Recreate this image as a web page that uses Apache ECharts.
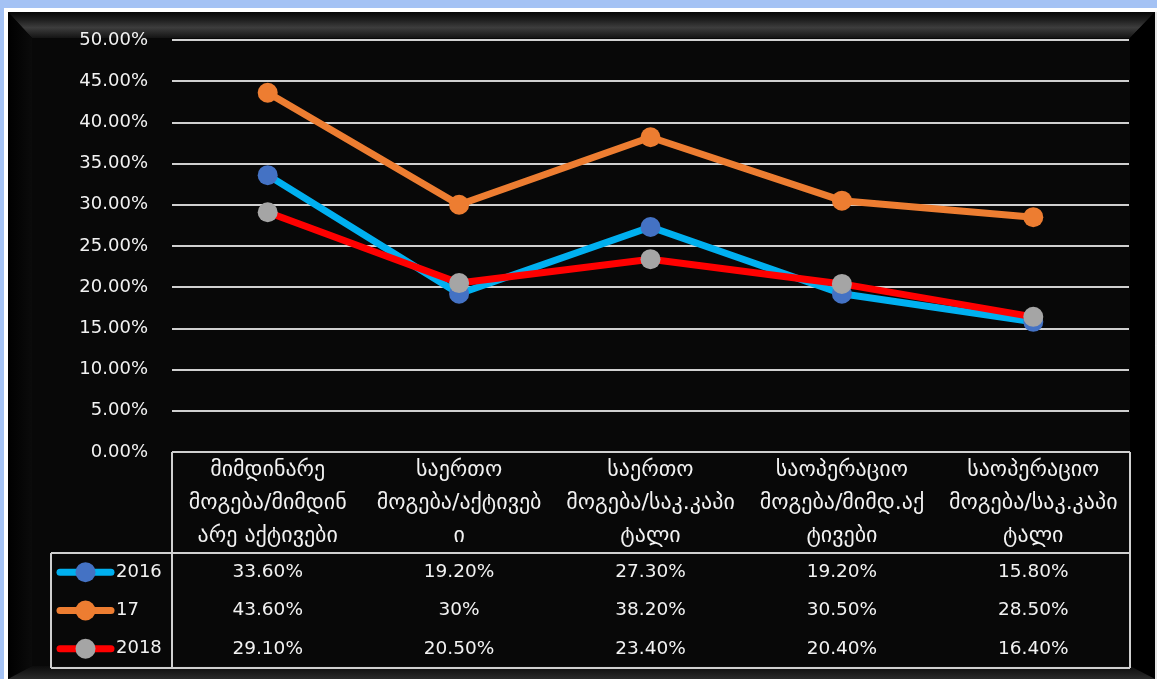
<!DOCTYPE html>
<html>
<head>
<meta charset="utf-8">
<script src="https://cdn.jsdelivr.net/npm/echarts@6/dist/echarts.min.js"></script>
<style>
  html, body { margin: 0; padding: 0; background: #a4c2f4; }
  #chart { width: 1157px; height: 679px; }
</style>
</head>
<body>
<div id="chart"></div>
<script>
// Ratio categories (wrapped the way the table header shows them)
const categories = [
  'მიმდინარე\nმოგება/მიმდინ\nარე აქტივები',
  'საერთო\nმოგება/აქტივებ\nი',
  'საერთო\nმოგება/საკ.კაპი\nტალი',
  'საოპერაციო\nმოგება/მიმდ.აქ\nტივები',
  'საოპერაციო\nმოგება/საკ.კაპი\nტალი'
];

// Series names and values (percent)
const seriesNames = ['2016', '17', '2018'];
const values2016 = [33.6, 19.2, 27.3, 19.2, 15.8];
const values17   = [43.6, 30.0, 38.2, 30.5, 28.5];
const values2018 = [29.1, 20.5, 23.4, 20.4, 16.4];

// Y axis range (percent)
const yMin = 0, yMax = 50, yStep = 5;

const FONT = '"DejaVu Sans", "Noto Sans", sans-serif';
const TEXT = '#f2f2f2';
const RULE = '#d0d0d0';

const lineColors   = ['#00b0f0', '#ed7d31', '#ff0000'];
const markerColors = ['#4472c4', '#ed7d31', '#a5a5a5'];
const seriesData   = [values2016, values17, values2018];

function pct(v) {
  return Number.isInteger(v) ? v + '%' : v.toFixed(2) + '%';
}

const chart = echarts.init(document.getElementById('chart'), null, { renderer: 'canvas' });

const option = {
  backgroundColor: '#a4c2f4',
  animation: false,
  grid: { left: 172, right: 28, top: 40, bottom: 227, containLabel: false },
  xAxis: {
    type: 'category',
    data: categories,
    boundaryGap: true,
    axisLine: { show: false },
    axisTick: { show: false },
    axisLabel: {
      interval: 0,
      margin: 2,
      color: TEXT,
      fontFamily: FONT,
      fontSize: 22,
      lineHeight: 33,
      align: 'center'
    }
  },
  yAxis: {
    type: 'value',
    min: yMin,
    max: yMax,
    interval: yStep,
    axisLine: { show: false },
    axisTick: { show: false },
    axisLabel: {
      margin: 24,
      color: TEXT,
      fontFamily: FONT,
      fontSize: 18,
      formatter: v => v.toFixed(2) + '%'
    },
    splitLine: { lineStyle: { color: RULE, width: 2 } }
  },
  series: seriesNames.map((name, i) => ({
    name: name,
    type: 'line',
    data: seriesData[i],
    symbol: 'circle',
    symbolSize: 20,
    lineStyle: { color: lineColors[i], width: 7 },
    itemStyle: { color: markerColors[i] },
    emphasis: { disabled: true },
    z: 2 + i
  }))
};

chart.setOption(option);

// Frame with bevelled edges
const W = 1157, H = 679;
const frame = [
  { type: 'rect', z: -20, shape: { x: 4, y: 8, width: W - 4, height: H - 8 }, style: { fill: '#ffffff' } },
  { type: 'rect', z: -19, shape: { x: 8, y: 12, width: W - 10, height: H - 12 }, style: { fill: '#000000' } },
  { type: 'rect', z: -18, shape: { x: 32, y: 38, width: 1098, height: 628 }, style: { fill: '#080808' } },
  { // top bevel
    type: 'polygon', z: -17,
    shape: { points: [[8, 12], [1155, 12], [1130, 38], [32, 38]] },
    style: { fill: new echarts.graphic.LinearGradient(0, 0, 0, 1, [
      { offset: 0, color: '#060606' },
      { offset: 0.3, color: '#1e1e1e' },
      { offset: 0.6, color: '#3d3d3d' },
      { offset: 1, color: '#141414' }
    ]) }
  },
  { // left bevel
    type: 'polygon', z: -17,
    shape: { points: [[8, 12], [32, 38], [32, 666], [8, 679]] },
    style: { fill: new echarts.graphic.LinearGradient(0, 0, 1, 0, [
      { offset: 0, color: '#000000' },
      { offset: 1, color: '#0b0b0b' }
    ]) }
  },
  { // right bevel
    type: 'polygon', z: -17,
    shape: { points: [[1155, 12], [1130, 38], [1130, 666], [1155, 679]] },
    style: { fill: '#000000' }
  },
  { // bottom bevel
    type: 'polygon', z: -16,
    shape: { points: [[8, 679], [32, 666], [1130, 666], [1155, 679]] },
    style: { fill: new echarts.graphic.LinearGradient(0, 0, 0, 1, [
      { offset: 0, color: '#0c0c0c' },
      { offset: 1, color: '#2a2a2a' }
    ]) }
  },
  { type: 'line', z: -15, shape: { x1: 1156, y1: 12, x2: 1156, y2: 679 }, style: { stroke: '#c8c8c8', lineWidth: 1 } }
];

// Data table below the plot
const gridRect = chart.getModel().getComponent('grid', 0).coordinateSystem.getRect();
const tLeft = gridRect.x;
const tRight = gridRect.x + gridRect.width + 1;
const tTop = gridRect.y + gridRect.height;
const headBottom = tTop + 101;
const rowH = 38.3;
const tBottom = headBottom + rowH * 3;
const legLeft = 51;

const table = [];
const seg = (x1, y1, x2, y2) => table.push({
  type: 'line', z: 1,
  shape: { x1, y1, x2, y2 },
  style: { stroke: RULE, lineWidth: 2 }
});
seg(tLeft, tTop, tRight, tTop);
seg(tLeft, tTop, tLeft, tBottom);
seg(tRight, tTop, tRight, tBottom);
seg(legLeft, headBottom, tRight, headBottom);
seg(legLeft, headBottom, legLeft, tBottom);
seg(legLeft, tBottom, tRight, tBottom);

seriesNames.forEach((name, s) => {
  const cy = headBottom + rowH * (s + 0.5);
  table.push({
    type: 'line', z: 5,
    shape: { x1: 60, y1: cy, x2: 111, y2: cy },
    style: { stroke: lineColors[s], lineWidth: 7, lineCap: 'round' }
  });
  table.push({
    type: 'circle', z: 6,
    shape: { cx: 85.5, cy: cy, r: 10 },
    style: { fill: markerColors[s] }
  });
  table.push({
    type: 'text', z: 6,
    x: 116, y: cy,
    style: { text: name, fill: TEXT, font: '18px ' + FONT, textAlign: 'left', textVerticalAlign: 'middle' }
  });
  seriesData[s].forEach((v, i) => {
    const cx = chart.convertToPixel({ xAxisIndex: 0 }, i);
    table.push({
      type: 'text', z: 6,
      x: cx, y: cy,
      style: { text: pct(v), fill: TEXT, font: '18.5px ' + FONT, textAlign: 'center', textVerticalAlign: 'middle' }
    });
  });
});

chart.setOption({ graphic: frame.concat(table) });
</script>
</body>
</html>
